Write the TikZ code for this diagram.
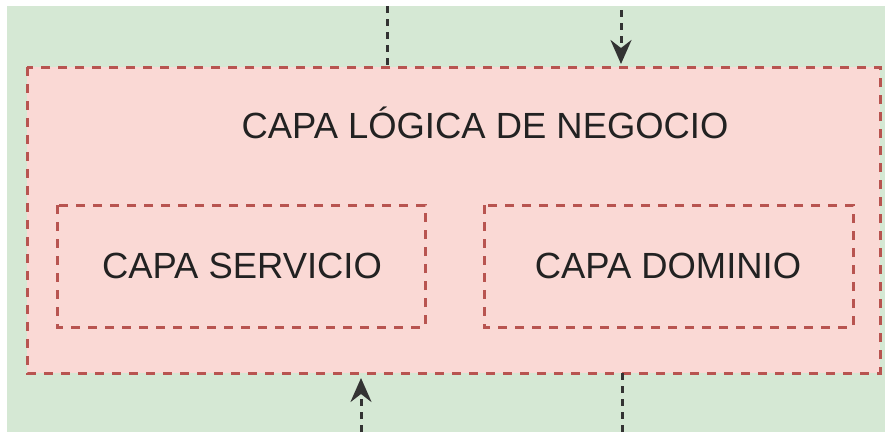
\documentclass[tikz,border=0pt]{standalone}
\usepackage{fontspec}
\setmainfont{Liberation Sans}
\usetikzlibrary{arrows.meta}
\definecolor{bggreen}{HTML}{D5E8D4}
\definecolor{redfill}{HTML}{FAD9D5}
\definecolor{redline}{HTML}{B85450}
\definecolor{txt}{HTML}{222222}
\tikzset{
  x=1pt, y=-1pt,
  layerbox/.style={draw=redline, fill=redfill, line width=3pt, dash pattern=on 9pt off 8pt},
  lbl/.style={text=txt, font=\fontsize{36.4}{42}\selectfont},
  conn/.style={draw=black!80, line width=3pt, dash pattern=on 7pt off 6pt},
  arr/.style={conn, -{Stealth[length=24pt,width=21pt,inset=8pt]}}
}
\begin{document}
\begin{tikzpicture}
\useasboundingbox (0,0) rectangle (885,432);
\fill[white] (0,0) rectangle (885,432);
\fill[bggreen] (7,6) rectangle (885,432);
\draw[layerbox] (27,67) rectangle (880,373);
\node[lbl] (title) at (485,123) {CAPA LÓGICA DE NEGOCIO};
\draw[layerbox] (57,205) rectangle (425,327);
\node[lbl] (serv) at (242,266) {CAPA SERVICIO};
\draw[layerbox] (484,205) rectangle (853,327);
\node[lbl] (dom) at (668,266) {CAPA DOMINIO};
\coordinate (t1a) at (387,6);
\coordinate (t1b) at (387,67);
\coordinate (t2a) at (621,10);
\coordinate (t2b) at (621,64);
\coordinate (b1a) at (361,432);
\coordinate (b1b) at (361,378);
\coordinate (b2a) at (622,373);
\coordinate (b2b) at (622,432);
\draw[conn] (t1a) -- (t1b);
\draw[arr] (t2a) -- (t2b);
\draw[arr] (b1a) -- (b1b);
\draw[conn] (b2a) -- (b2b);
\end{tikzpicture}
\end{document}
